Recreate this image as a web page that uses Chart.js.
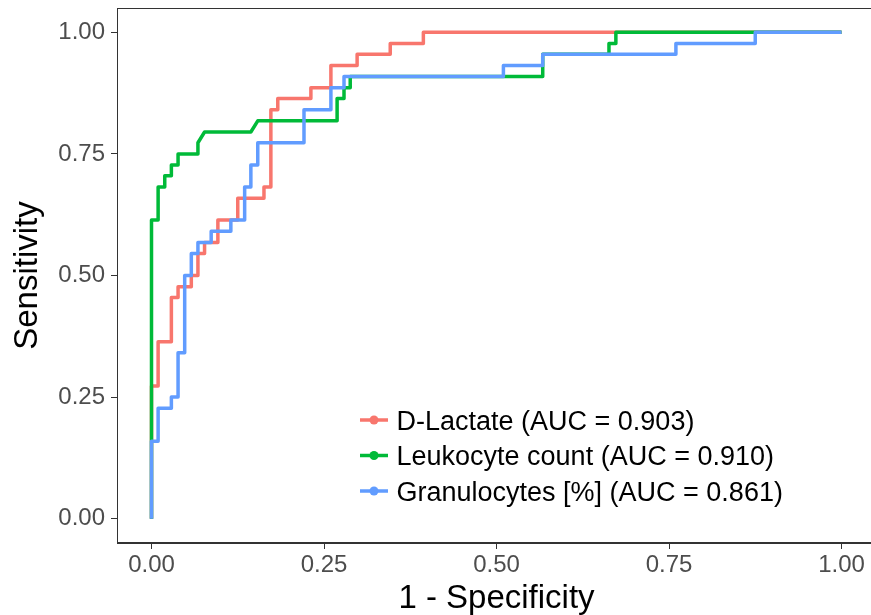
<!DOCTYPE html>
<html>
<head>
<meta charset="utf-8">
<script src="https://cdn.jsdelivr.net/npm/chart.js@4.4.0/dist/chart.umd.min.js"></script>
<style>
html,body{margin:0;padding:0;background:#ffffff;overflow:hidden;}
#wrap{width:880px;height:615px;}
</style>
</head>
<body>
<div id="wrap"><canvas id="c" width="880" height="615"></canvas></div>
<script>
// ---- Data ----
const seriesLabels = ["D-Lactate (AUC = 0.903)", "Leukocyte count (AUC = 0.910)", "Granulocytes [%] (AUC = 0.861)"];
const seriesColors = ["#F8766D", "#00BA38", "#619CFF"];

// D-Lactate ROC curve: 1 - specificity and sensitivity
const lactateFpr = [0, 0, 0.0096, 0.0096, 0.0288, 0.0288, 0.0385, 0.0385, 0.0577, 0.0577, 0.0673, 0.0673, 0.0769, 0.0769, 0.0962, 0.0962, 0.125, 0.125, 0.163, 0.163, 0.173, 0.173, 0.183, 0.183, 0.231, 0.231, 0.260, 0.260, 0.298, 0.298, 0.346, 0.346, 0.394, 0.394, 1];
const lactateTpr = [0, 0.273, 0.273, 0.364, 0.364, 0.455, 0.455, 0.477, 0.477, 0.5, 0.5, 0.545, 0.545, 0.568, 0.568, 0.614, 0.614, 0.659, 0.659, 0.682, 0.682, 0.841, 0.841, 0.864, 0.864, 0.886, 0.886, 0.932, 0.932, 0.955, 0.955, 0.977, 0.977, 1, 1];

// Leukocyte count ROC curve
const leukoFpr = [0, 0, 0.0096, 0.0096, 0.0192, 0.0192, 0.0288, 0.0288, 0.0385, 0.0385, 0.0673, 0.0673, 0.0769, 0.144, 0.154, 0.269, 0.269, 0.279, 0.279, 0.288, 0.288, 0.567, 0.567, 0.663, 0.663, 0.673, 0.673, 1];
const leukoTpr = [0, 0.614, 0.614, 0.682, 0.682, 0.705, 0.705, 0.727, 0.727, 0.75, 0.75, 0.773, 0.795, 0.795, 0.818, 0.818, 0.864, 0.864, 0.886, 0.886, 0.909, 0.909, 0.955, 0.955, 0.977, 0.977, 1, 1];

// Granulocytes [%] ROC curve
const granuloFpr = [0, 0, 0.0096, 0.0096, 0.0288, 0.0288, 0.0385, 0.0385, 0.0481, 0.0481, 0.0577, 0.0577, 0.0673, 0.0673, 0.0865, 0.0865, 0.115, 0.115, 0.135, 0.135, 0.144, 0.144, 0.154, 0.154, 0.221, 0.221, 0.260, 0.260, 0.279, 0.279, 0.510, 0.510, 0.567, 0.567, 0.760, 0.760, 0.875, 0.875, 1];
const granuloTpr = [0, 0.159, 0.159, 0.227, 0.227, 0.25, 0.25, 0.341, 0.341, 0.5, 0.5, 0.545, 0.545, 0.568, 0.568, 0.591, 0.591, 0.614, 0.614, 0.682, 0.682, 0.727, 0.727, 0.773, 0.773, 0.841, 0.841, 0.886, 0.886, 0.909, 0.909, 0.932, 0.932, 0.955, 0.955, 0.977, 0.977, 1, 1];

const xTicks = [0, 0.25, 0.5, 0.75, 1];
const yTicks = [0, 0.25, 0.5, 0.75, 1];
const xTitle = "1 - Specificity";
const yTitle = "Sensitivity";
// ----------------------------------------------

const FONT = "'Liberation Sans', Arial, Helvetica, sans-serif";
Chart.defaults.font.family = FONT;

function pts(xs, ys) { return xs.map((x, i) => ({ x: x, y: ys[i] })); }

const curves = [[lactateFpr, lactateTpr], [leukoFpr, leukoTpr], [granuloFpr, granuloTpr]];
const datasets = curves.map((c, i) => ({
  label: seriesLabels[i],
  data: pts(c[0], c[1]),
  showLine: true,
  borderColor: seriesColors[i],
  backgroundColor: seriesColors[i],
  borderWidth: 3.5,
  pointRadius: 0,
  pointHoverRadius: 0,
  borderJoinStyle: 'round',
  borderCapStyle: 'butt',
  tension: 0,
  order: 3 - i
}));

const panelBorder = {
  id: 'panelBorder',
  afterDatasetsDraw(chart) {
    const a = chart.chartArea, ctx = chart.ctx;
    ctx.save();
    ctx.strokeStyle = '#333333';
    ctx.lineWidth = 1;
    ctx.strokeRect(a.left + 0.5, a.top + 0.5, a.right - a.left - 1, a.bottom - a.top - 1);
    ctx.restore();
  }
};

const insideLegend = {
  id: 'insideLegend',
  afterDraw(chart) {
    const ctx = chart.ctx;
    const x0 = 360, x1 = 388, tx = 396.5, size = 27;
    const rows = [420, 455.5, 491];
    ctx.save();
    chart.data.datasets.forEach((ds, i) => {
      const y = rows[i];
      ctx.strokeStyle = ds.borderColor;
      ctx.lineWidth = 3.5;
      ctx.lineCap = 'butt';
      ctx.beginPath();
      ctx.moveTo(x0, y);
      ctx.lineTo(x1, y);
      ctx.stroke();
      ctx.fillStyle = ds.borderColor;
      ctx.beginPath();
      ctx.arc((x0 + x1) / 2, y, 4.5, 0, Math.PI * 2);
      ctx.fill();
      ctx.fillStyle = '#000000';
      ctx.font = size + 'px ' + FONT;
      ctx.textAlign = 'left';
      ctx.textBaseline = 'alphabetic';
      ctx.fillText(ds.label, tx, y + 0.358 * size);
    });
    ctx.restore();
  }
};

new Chart(document.getElementById('c'), {
  type: 'scatter',
  data: { datasets: datasets },
  options: {
    responsive: false,
    animation: false,
    devicePixelRatio: 1,
    layout: { padding: { top: 8, right: 4, left: 0, bottom: 0 } },
    plugins: { legend: { display: false }, tooltip: { enabled: false } },
    scales: {
      x: {
        type: 'linear',
        min: -0.05, max: 1.05,
        afterBuildTicks: s => { s.ticks = xTicks.map(v => ({ value: v })); },
        afterFit: s => { s.height = 72; s.paddingLeft = 0; s.paddingRight = 0; },
        grid: { display: true, drawOnChartArea: false, drawTicks: true, tickLength: 6, color: '#333333', lineWidth: 1 },
        border: { display: true, color: '#333333', width: 1 },
        ticks: { font: { size: 24 }, color: '#4D4D4D', padding: 2, maxRotation: 0, autoSkip: false,
                 callback: v => Number(v).toFixed(2) },
        title: { display: true, text: xTitle, color: '#000000', font: { size: 33, lineHeight: 1 }, padding: { top: 0, bottom: 0 } }
      },
      y: {
        type: 'linear',
        min: -0.05, max: 1.05,
        afterBuildTicks: s => { s.ticks = yTicks.map(v => ({ value: v })); },
        afterFit: s => { s.width = 117; s.paddingTop = 0; s.paddingBottom = 0; },
        grid: { display: true, drawOnChartArea: false, drawTicks: true, tickLength: 6, color: '#333333', lineWidth: 1 },
        border: { display: true, color: '#333333', width: 1 },
        ticks: { font: { size: 24 }, color: '#4D4D4D', padding: 6, autoSkip: false,
                 callback: v => Number(v).toFixed(2) },
        title: { display: true, text: yTitle, color: '#000000', font: { size: 33, lineHeight: 1 }, padding: { top: 11, bottom: 0 } }
      }
    }
  },
  plugins: [panelBorder, insideLegend]
});
</script>
</body>
</html>
